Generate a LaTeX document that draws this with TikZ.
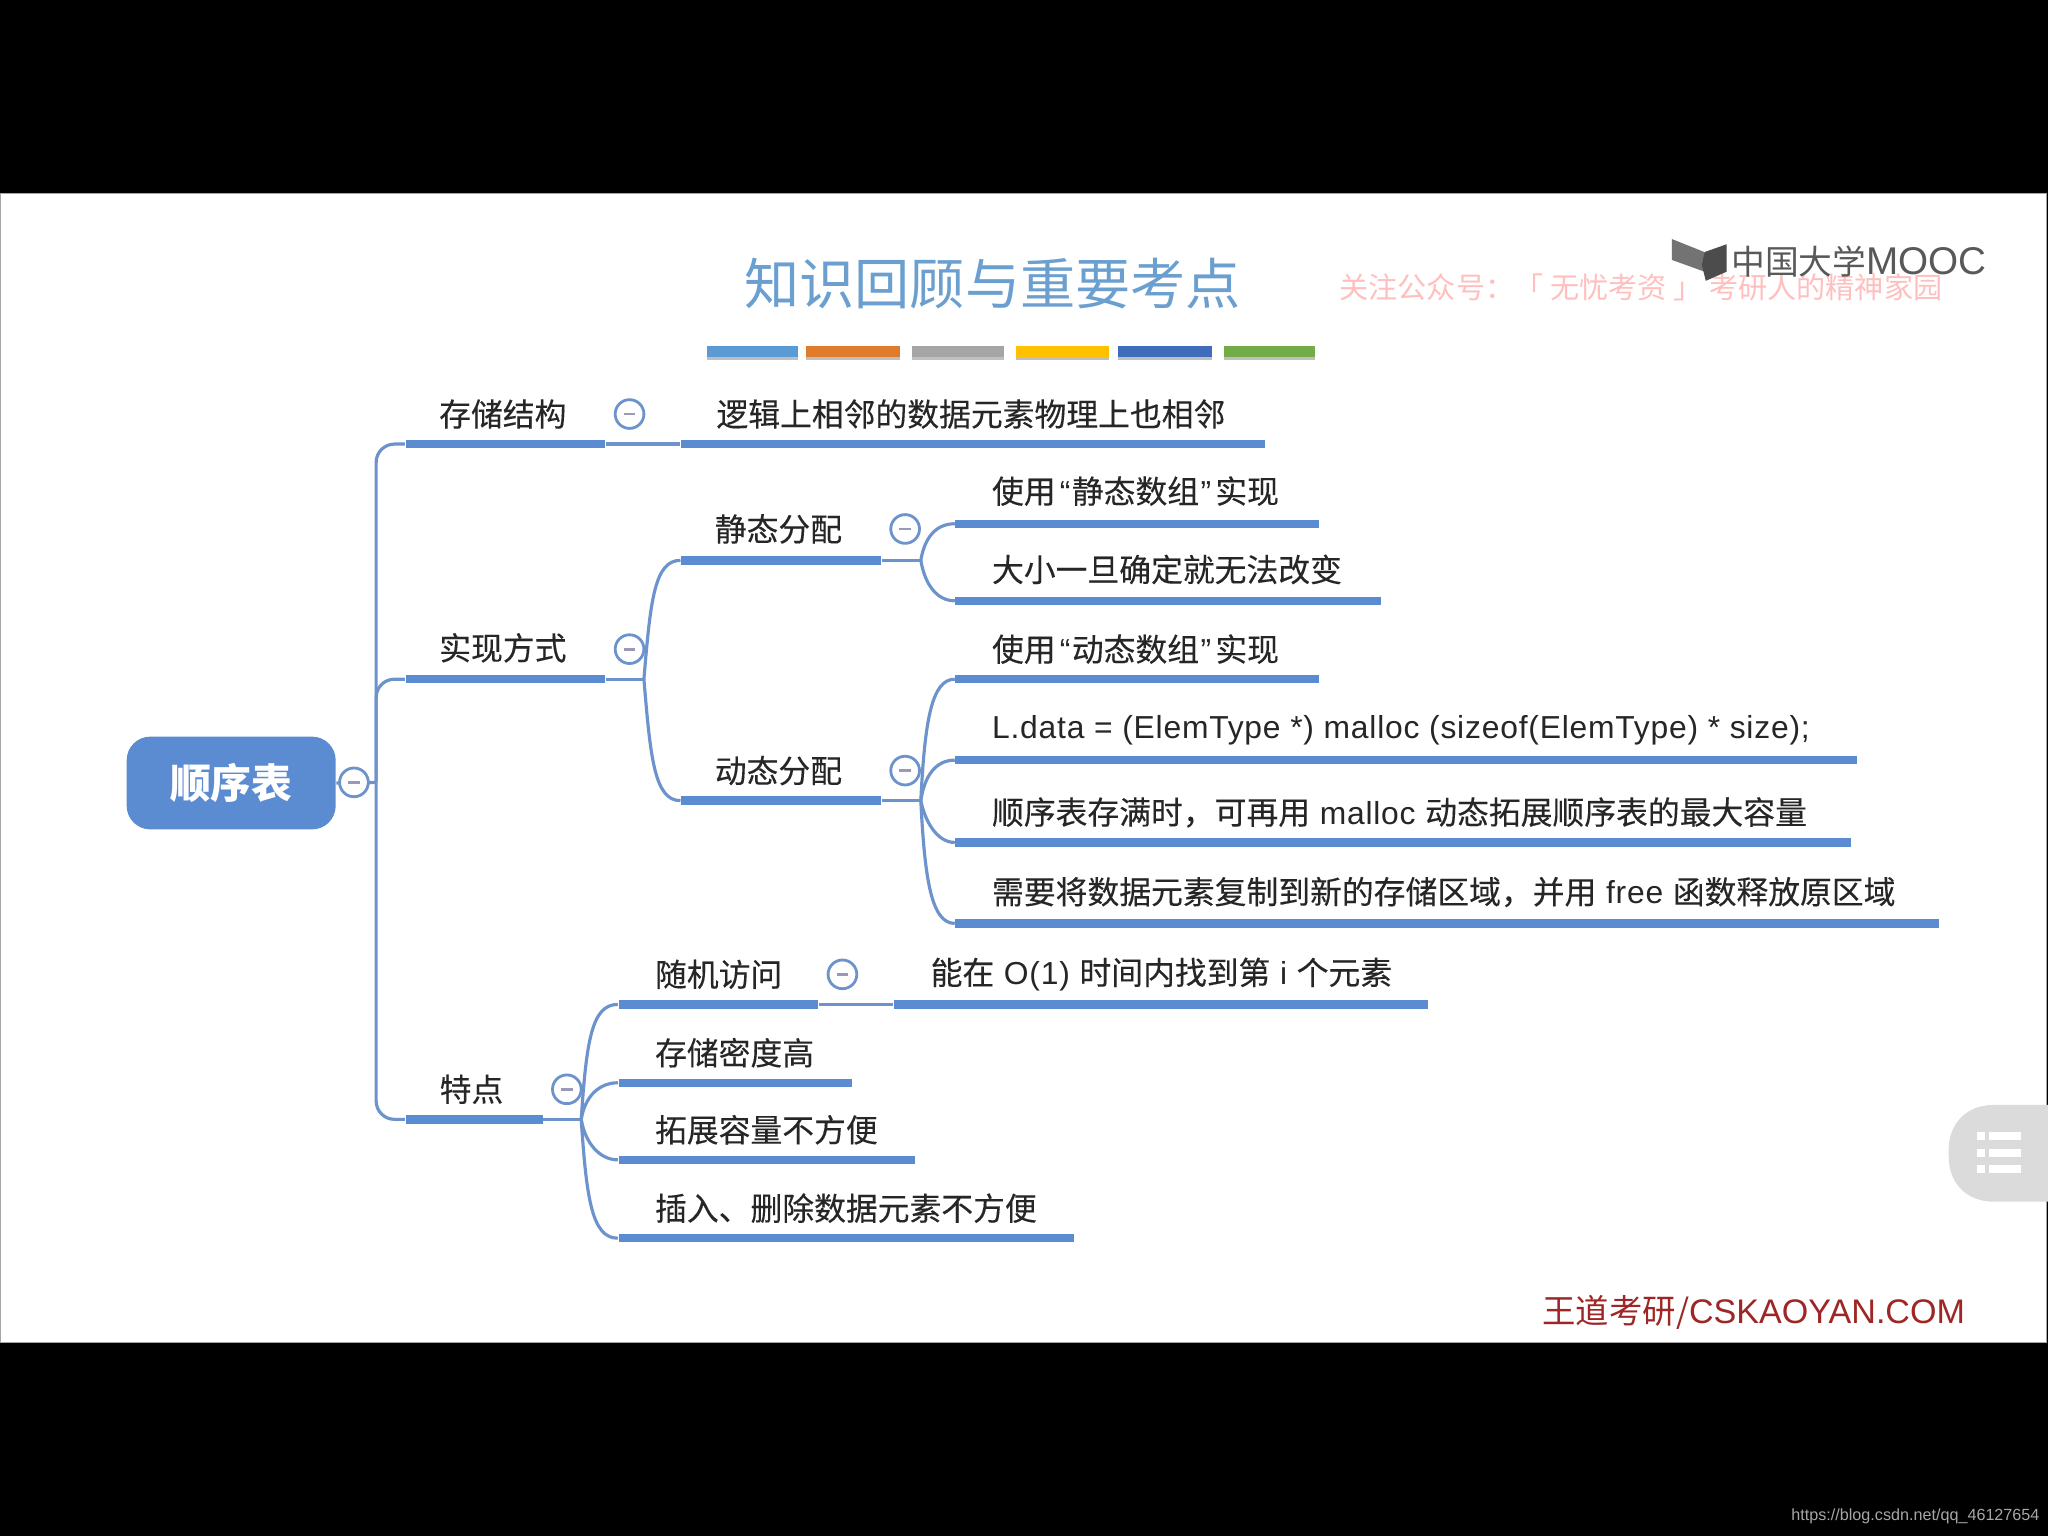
\documentclass[tikz,border=0pt]{standalone}
\usepackage{fontspec}
\setmainfont{Noto Sans CJK SC}
\newfontfamily\latinfont{Liberation Sans}
\newfontfamily\latinwide[LetterSpace=2.5]{Liberation Sans}
\usepackage{tikz}

\definecolor{mapblue}{HTML}{5B8BD0}
\definecolor{linkblue}{HTML}{6C93CC}
\definecolor{titleblue}{HTML}{6A9FCF}
\definecolor{inkdark}{HTML}{262626}
\definecolor{foldminus}{HTML}{9A9AB8}

\newcommand{\lat}[1]{{\latinwide #1}}

\begin{document}
\begin{tikzpicture}[x=0.013061cm,y=-0.013061cm,
    barnode/.style={fill=mapblue,inner sep=0pt,minimum height=6.5*\PX,anchor=west},
    link/.style={draw=linkblue,line width=0.9pt},
    topic/.style={text=inkdark,font=\fontsize{9.05}{11}\selectfont\addfontfeatures{FakeBold=0.2},inner sep=0pt},
    leaf/.style={topic,anchor=west},
    fold/.style={circle,draw=linkblue,fill=white,line width=0.8pt,minimum size=22*\PX,inner sep=0pt},
]

% 参数
\pgfmathsetlengthmacro{\PX}{0.013061cm}

% 黑色屏幕与白色幻灯片
\useasboundingbox (0,0) rectangle (1568,1176);
\fill[black] (0,0) rectangle (1568,1176);
\fill[white,draw=gray!70,line width=0.4pt] (0.5,148) rectangle (1566.8,1028);

% 标题
\node[text=titleblue,font=\fontsize{15.7}{20}\selectfont] (title) at (760,217) {知识回顾与重要考点};

% 标题下的色条
\foreach \xa/\xb/\barcol [count=\i] in {541/611/5B9BD5,617/689/E07B2E,698/769/A5A5A5,778/849/FFC000,856/928/3F6DBB,937/1007/70AD47}{
    \definecolor{barcol\i}{HTML}{\barcol}
    \fill[black!25] (\xa,267) rectangle (\xb,276);
    \fill[barcol\i] (\xa,265) rectangle (\xb,273);
}

% 右上角水印与标志
\node[text=red!25,font=\fontsize{8.3}{10}\selectfont,anchor=west,inner sep=0pt] (wmark) at (1025,220) {关注公众号：「 无忧考资 」 考研人的精神家园};
\fill[black!55] (1280,183) -- (1305,193) -- (1305,208) -- (1280,199) -- cycle;
\fill[black!70] (1305,193) -- (1322,187) -- (1322,208) -- (1306,215) -- (1303,203) -- cycle;
\node[text=black!65,font=\fontsize{9.6}{11}\selectfont\latinfont,anchor=west,inner sep=0pt] (mooc) at (1325,200) {{\rmfamily 中国大学}{\fontsize{11}{11}\selectfont MOOC}};

% 中心主题
\node[fill=mapblue,rounded corners=18*\PX,minimum width=160*\PX,minimum height=71*\PX,inner sep=0pt,
      text=white,font=\fontsize{11.6}{14}\selectfont\bfseries] (root) at (177,599.5) {顺序表};
\coordinate (jroot) at (288,599);

% 第一层
\node[barnode,minimum width=153*\PX] (storebar) at (310,340) {};
\node[topic] (store) at (385,317) {存储结构};
\node[barnode,minimum width=153*\PX] (implbar) at (310,520) {};
\node[topic] (impl) at (385,496) {实现方式};
\node[barnode,minimum width=105*\PX] (featbar) at (310,857) {};
\node[topic] (feat) at (361,834) {特点};

\draw[link] (root.east) -- (jroot);
\draw[link,rounded corners=14*\PX] (jroot) |- (storebar.west);
\draw[link,rounded corners=14*\PX] (jroot) |- (implbar.west);
\draw[link,rounded corners=14*\PX] (jroot) |- (featbar.west);

% 存储结构
\node[barnode,minimum width=447*\PX] (adjbar) at (521,340) {};
\node[leaf] (adj) at (548,317) {逻辑上相邻的数据元素物理上也相邻};
\draw[link] (storebar.east) -- (adjbar.west);

% 实现方式
\coordinate (jimpl) at (493,520);
\node[barnode,minimum width=153*\PX] (staticbar) at (521,429) {};
\node[topic] (static) at (596,405) {静态分配};
\node[barnode,minimum width=153*\PX] (dynbar) at (521,613) {};
\node[topic] (dyn) at (596,590) {动态分配};
\draw[link] (implbar.east) -- (jimpl);
\draw[link] (jimpl) .. controls +(5,-60) and +(-20,0) .. (staticbar.west);
\draw[link] (jimpl) .. controls +(5,60) and +(-20,0) .. (dynbar.west);

% 静态分配
\coordinate (jstatic) at (705,429);
\node[barnode,minimum width=278*\PX] (sabar) at (731,401) {};
\node[leaf] (sa) at (759,376) {使用\hspace{1.2pt}\lat{“}\hspace{0.4pt}静态数组\hspace{0.4pt}\lat{”}\hspace{1.2pt}实现};
\node[barnode,minimum width=326*\PX] (sbbar) at (731,460) {};
\node[leaf] (sb) at (759,436) {大小一旦确定就无法改变};
\draw[link] (staticbar.east) -- (jstatic);
\draw[link] (jstatic) .. controls +(3,-18) and +(-14,0) .. (sabar.west);
\draw[link] (jstatic) .. controls +(3,18) and +(-14,0) .. (sbbar.west);

% 动态分配
\coordinate (jdyn) at (705,613);
\node[barnode,minimum width=278*\PX] (dabar) at (731,520) {};
\node[leaf] (da) at (759,497) {使用\hspace{1.2pt}\lat{“}\hspace{0.4pt}动态数组\hspace{0.4pt}\lat{”}\hspace{1.2pt}实现};
\node[barnode,minimum width=690*\PX] (dbbar) at (731,582) {};
\node[leaf] (db) at (759,559) {\lat{L.data = (ElemType *) malloc (sizeof(ElemType) * size);}};
\node[barnode,minimum width=686*\PX] (dcbar) at (731,645) {};
\node[leaf] (dc) at (759,622) {顺序表存满时，可再用\lat{ malloc }动态拓展顺序表的最大容量};
\node[barnode,minimum width=753*\PX] (ddbar) at (731,707) {};
\node[leaf] (dd) at (759,683) {需要将数据元素复制到新的存储区域，并用\lat{ free }函数释放原区域};
\draw[link] (dynbar.east) -- (jdyn);
\draw[link] (jdyn) .. controls +(3,-60) and +(-18,0) .. (dabar.west);
\draw[link] (jdyn) .. controls +(3,-20) and +(-14,0) .. (dbbar.west);
\draw[link] (jdyn) .. controls +(3,15) and +(-14,0) .. (dcbar.west);
\draw[link] (jdyn) .. controls +(3,60) and +(-18,0) .. (ddbar.west);

% 特点
\coordinate (jfeat) at (445,857);
\node[barnode,minimum width=153*\PX] (fabar) at (473,769) {};
\node[leaf] (fa) at (501,746) {随机访问};
\node[barnode,minimum width=179*\PX] (fbbar) at (473,829) {};
\node[leaf] (fb) at (501,806) {存储密度高};
\node[barnode,minimum width=227*\PX] (fcbar) at (473,888) {};
\node[leaf] (fc) at (501,865) {拓展容量不方便};
\node[barnode,minimum width=349*\PX] (fdbar) at (473,948) {};
\node[leaf] (fd) at (501,925) {插入、删除数据元素不方便};
\node[barnode,minimum width=409*\PX] (fabbar) at (684,769) {};
\node[leaf] (fab) at (712,746) {能在\lat{ O(1) }时间内找到第\lat{ i }个元素};
\draw[link] (featbar.east) -- (jfeat);
\draw[link] (jfeat) .. controls +(4,-60) and +(-20,0) .. (fabar.west);
\draw[link] (jfeat) .. controls +(3,-18) and +(-14,0) .. (fbbar.west);
\draw[link] (jfeat) .. controls +(3,18) and +(-14,0) .. (fcbar.west);
\draw[link] (jfeat) .. controls +(4,60) and +(-20,0) .. (fdbar.west);
\draw[link] (fabar.east) -- (fabbar.west);

% 折叠按钮
\foreach \fx/\fy/\fname in {271/599/froot,482/317/fstore,482/497/fimpl,434/834/ffeat,693/405/fstatic,693/590/fdyn,645/746/frand}{
    \node[fold] (\fname) at (\fx,\fy) {};
    \draw[foldminus,line width=0.8pt] ([xshift=-4.5*\PX]\fname.center) -- ([xshift=4.5*\PX]\fname.center);
}

% 右侧悬浮按钮
\fill[black!14] (1568,846) -- (1526,846) .. controls (1506,846) and (1492,860) .. (1492,880)
    -- (1492,886) .. controls (1492,906) and (1506,920) .. (1526,920) -- (1568,920) -- cycle;
\foreach \ly in {870,883,895}{
    \fill[white] (1514,\ly-3) rectangle (1520,\ly+3);
    \fill[white] (1523,\ly-3) rectangle (1547,\ly+3);
}

% 底部文字
\node[text=red!55!black!85,font=\fontsize{9.5}{12}\selectfont,anchor=east,inner sep=0pt] (brand) at (1505,1005) {王道考研/{\latinfont\fontsize{9.7}{12}\selectfont CSKAOYAN.COM}};
\node[text=black!35,font=\fontsize{4.6}{6}\selectfont\latinfont,anchor=east,inner sep=0pt] (url) at (1562,1161) {https://blog.csdn.net/qq\_46127654};

\end{tikzpicture}
\end{document}
